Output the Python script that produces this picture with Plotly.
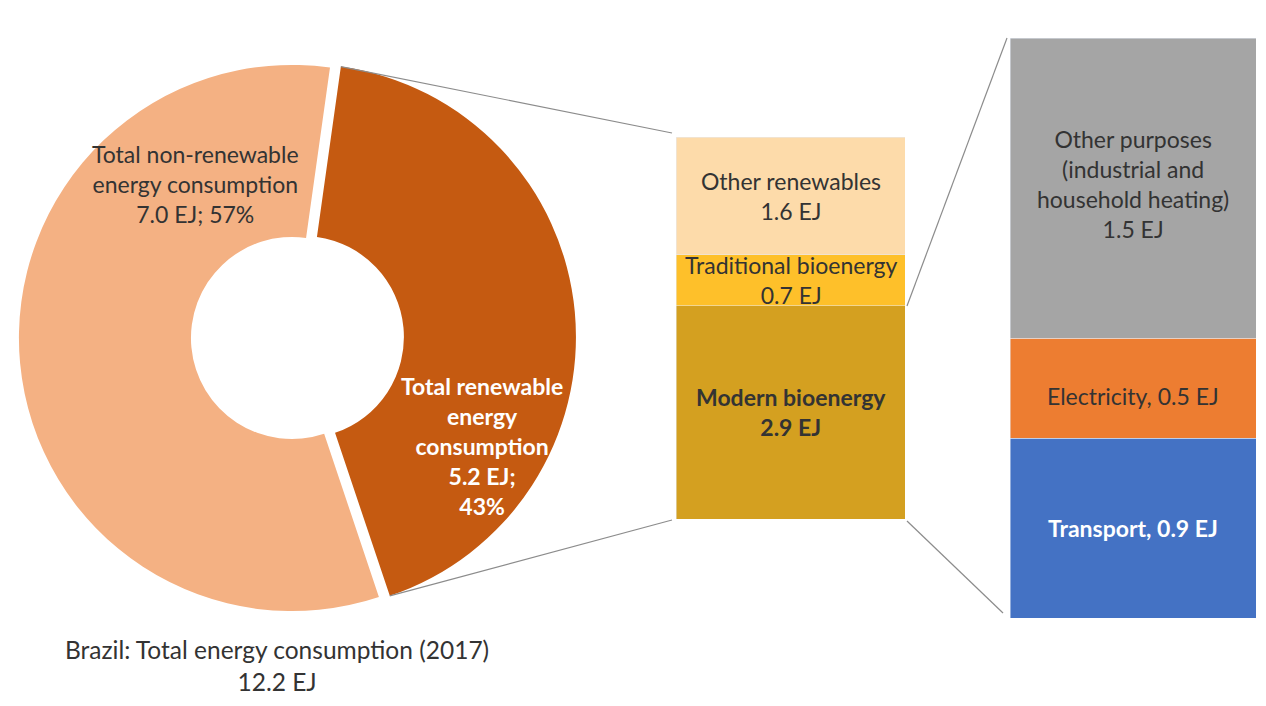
"""
Brazil energy consumption 2017 – donut with two drill-down stacked bars.
"""

import math

import plotly.graph_objects as go

W, H = 1266, 706
OFF = 8                      # browser body margin
PW, PH = W - 2 * OFF, H - 2 * OFF

# ---- data -------------------------------------------------------------
total_labels = ["Total renewable energy consumption", "Total non-renewable energy consumption"]
total_values = [5.2, 7.0]
total_share = [43, 57]

renew_labels = ["Modern bioenergy", "Traditional bioenergy", "Other renewables"]
renew_values = [2.9, 0.7, 1.6]

modern_labels = ["Transport", "Electricity", "Other purposes (industrial and household heating)"]
modern_values = [0.9, 0.5, 1.5]

title_text = "Brazil: Total energy consumption (2017)"
title_total = 12.2

# ---- colours ----------------------------------------------------------
DONUT_COLOURS = ["#C55A11", "#F4B183"]
RENEW_COLOURS = ["#D4A020", "#FEC02A", "#FDDBAA"]
MODERN_COLOURS = ["#4472C4", "#ED7D31", "#A5A5A5"]
TEXT = "#333333"
FONT = "Lato"
FS = 23

# ---- layout boxes (screen pixels) ---------------------------------------
PIE_CX, PIE_CY = 292, 338
PIE_HALF = PIE_CX - OFF
PULL = 0.04
ROTATION = 8
MID_BOX = (676, 905, 137, 519)    # x0, x1, ytop, ybottom
RIGHT_BOX = (1010, 1256, 38, 618)


def px(x):
    return (x - OFF) / PW


def py(y):
    return 1 - (y - OFF) / PH


fig = go.Figure()

fig.add_trace(go.Pie(
    labels=total_labels,
    values=total_values,
    marker=dict(colors=DONUT_COLOURS),
    hole=0.37,
    pull=[PULL, 0],
    sort=False,
    direction="clockwise",
    rotation=ROTATION,
    textinfo="none",
    showlegend=False,
    domain=dict(x=[px(PIE_CX - PIE_HALF), px(PIE_CX + PIE_HALF)],
                y=[py(PIE_CY + PIE_HALF), py(PIE_CY - PIE_HALF)]),
))

# middle stacked bar
for lab, val, col in zip(renew_labels, renew_values, RENEW_COLOURS):
    fig.add_trace(go.Bar(x=["renew"], y=[val], name=lab, marker_color=col,
                         width=1, xaxis="x", yaxis="y", showlegend=False,
                         hoverinfo="name+y"))

# right stacked bar
for lab, val, col in zip(modern_labels, modern_values, MODERN_COLOURS):
    fig.add_trace(go.Bar(x=["modern"], y=[val], name=lab, marker_color=col,
                         width=1, xaxis="x2", yaxis="y2", showlegend=False,
                         hoverinfo="name+y"))

hidden = dict(visible=False, fixedrange=True)
fig.update_layout(
    barmode="stack",
    width=PW, height=PH,
    margin=dict(l=0, r=0, t=0, b=0),
    paper_bgcolor="white", plot_bgcolor="white",
    font=dict(family=FONT, size=FS, color=TEXT),
    xaxis=dict(domain=[px(MID_BOX[0]), px(MID_BOX[1])], range=[-0.5, 0.5], **hidden),
    yaxis=dict(domain=[py(MID_BOX[3]), py(MID_BOX[2])], range=[0, sum(renew_values)], **hidden),
    xaxis2=dict(domain=[px(RIGHT_BOX[0]), px(RIGHT_BOX[1])], range=[-0.5, 0.5],
                anchor="y2", **hidden),
    yaxis2=dict(domain=[py(RIGHT_BOX[3]), py(RIGHT_BOX[2])], range=[0, sum(modern_values)],
                anchor="x2", **hidden),
)

# ---- labels -----------------------------------------------------------
renew_text = [
    "<b>Modern bioenergy<br>%.1f EJ</b>" % renew_values[0],
    "Traditional bioenergy<br>%.1f EJ" % renew_values[1],
    "Other renewables<br>%.1f EJ" % renew_values[2],
]
modern_text = [
    "<b>Transport, %.1f EJ</b>" % modern_values[0],
    "Electricity, %.1f EJ" % modern_values[1],
    "Other purposes<br>(industrial and<br>household heating)<br>%.1f EJ" % modern_values[2],
]
modern_font = ["white", TEXT, TEXT]
modern_shift = [0, -8, 4]

base = 0
for txt, val in zip(renew_text, renew_values):
    fig.add_annotation(x="renew", y=base + val / 2, xref="x", yref="y", text=txt,
                       showarrow=False, xanchor="center", yanchor="middle",
                       font=dict(size=FS, color=TEXT))
    base += val

base = 0
for txt, val, col, sh in zip(modern_text, modern_values, modern_font, modern_shift):
    fig.add_annotation(x="modern", y=base + val / 2, xref="x2", yref="y2", text=txt,
                       showarrow=False, xanchor="center", yanchor="middle", yshift=sh,
                       font=dict(size=FS, color=col))
    base += val

fig.add_annotation(
    x=px(195), y=py(184), xref="paper", yref="paper", showarrow=False,
    xanchor="center", yanchor="middle",
    text="Total non-renewable<br>energy consumption<br>%.1f EJ; %d%%" % (total_values[1], total_share[1]),
    font=dict(size=FS, color=TEXT),
)
fig.add_annotation(
    x=px(482), y=py(446), xref="paper", yref="paper", showarrow=False,
    xanchor="center", yanchor="middle",
    text="<b>Total renewable<br>energy<br>consumption<br>%.1f EJ;<br>%d%%</b>" % (total_values[0], total_share[0]),
    font=dict(size=FS, color="white"),
)
fig.add_annotation(
    x=px(277), y=py(665), xref="paper", yref="paper", showarrow=False,
    xanchor="center", yanchor="middle",
    text="%s<br>%.1f EJ" % (title_text, title_total),
    font=dict(size=24.5, color=TEXT),
)

# ---- connector lines --------------------------------------------------
r = PIE_HALF / (1 + PULL)
span = 360 * total_values[0] / sum(total_values)
a0 = math.radians(ROTATION)
a1 = math.radians(ROTATION + span)
amid = (a0 + a1) / 2
ox, oy = r * PULL * math.sin(amid), -r * PULL * math.cos(amid)


def slice_corner(a):
    return PIE_CX + ox + r * math.sin(a), PIE_CY + oy - r * math.cos(a)


def bar_y(box, frac):
    return box[3] - frac * (box[3] - box[2])


pts = []
pts.append((slice_corner(a0), (MID_BOX[0] - 4, MID_BOX[2] - 4)))
pts.append((slice_corner(a1), (MID_BOX[0] - 4, MID_BOX[3] + 1)))
modern_frac = renew_values[0] / sum(renew_values)
pts.append(((MID_BOX[1] + 2, bar_y(MID_BOX, modern_frac)), (RIGHT_BOX[0] - 3, RIGHT_BOX[2])))
pts.append(((MID_BOX[1] + 2, MID_BOX[3] + 2), (RIGHT_BOX[0] - 7, RIGHT_BOX[3] - 5)))

for (x0, y0), (x1, y1) in pts:
    fig.add_shape(type="line", xref="paper", yref="paper",
                  x0=px(x0), y0=py(y0), x1=px(x1), y1=py(y1),
                  line=dict(color="#8C8C8C", width=1.2))

fig.write_html("out.html")
